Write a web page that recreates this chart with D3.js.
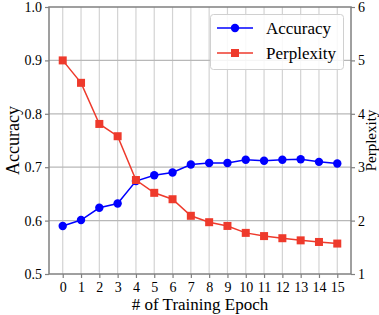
<!DOCTYPE html>
<html><head><meta charset="utf-8">
<script src="https://cdn.jsdelivr.net/npm/d3@7"></script>
<style>body{margin:0;background:#fff}svg{display:block}</style>
</head><body><svg id="c" width="379" height="315"></svg>
<script>
const epochs = [0,1,2,3,4,5,6,7,8,9,10,11,12,13,14,15];
const accuracy = [0.590,0.601,0.624,0.632,0.674,0.685,0.690,0.705,0.708,0.708,0.714,0.712,0.714,0.715,0.710,0.707];
const perplexity = [5.00,4.58,3.81,3.58,2.76,2.52,2.40,2.09,1.97,1.90,1.77,1.71,1.67,1.63,1.60,1.57];
const leftTicks = [0.5,0.6,0.7,0.8,0.9,1.0];
const rightTicks = [1,2,3,4,5,6];
const seriesNames = ["Accuracy","Perplexity"];
const colors = {acc:"#0000ff", ppl:"#ee3a2c"};
const FONT = "Liberation Serif, DejaVu Serif, serif";

const svg = d3.select("#c");
const L=49, R=351, T=7, B=274;
const x = d3.scaleLinear().domain([-0.75,15.75]).range([L,R]);
const yL = d3.scaleLinear().domain([0.5,1.0]).range([B,T]);
const yR = d3.scaleLinear().domain([1,6]).range([B,T]);

// grid
const g = svg.append("g");
g.selectAll("line.v").data(epochs).join("line")
 .attr("x1",d=>x(d)).attr("x2",d=>x(d)).attr("y1",T).attr("y2",B)
 .attr("stroke","#d3d3d3").attr("stroke-width",1.2);
g.selectAll("line.h").data(leftTicks.slice(1,-1)).join("line")
 .attr("x1",L).attr("x2",R).attr("y1",d=>yL(d)).attr("y2",d=>yL(d))
 .attr("stroke","#b8b8b8").attr("stroke-width",1.2);

// axes
const fmt = d3.format(".1f");
const axL = svg.append("g").attr("transform",`translate(${L},0)`)
 .call(d3.axisLeft(yL).tickValues(leftTicks).tickFormat(fmt).tickSize(4).tickPadding(3));
const axR = svg.append("g").attr("transform",`translate(${R},0)`)
 .call(d3.axisRight(yR).tickValues(rightTicks).tickFormat(d3.format("d")).tickSize(4).tickPadding(3));
const axB = svg.append("g").attr("transform",`translate(0,${B})`)
 .call(d3.axisBottom(x).tickValues(epochs).tickFormat(d3.format("d")).tickSize(4).tickPadding(4));
[axL,axR,axB].forEach(a=>{
  a.attr("font-family",FONT).attr("font-size",14);
  a.select(".domain").remove();
  a.selectAll(".tick line").attr("stroke","#808080").attr("stroke-width",1.2);
  a.selectAll("text").attr("fill","#000").attr("font-family",FONT).attr("font-size",14);
});
// frame
svg.append("rect").attr("x",L).attr("y",T).attr("width",R-L).attr("height",B-T)
 .attr("fill","none").attr("stroke","#808080").attr("stroke-width",1.5);

// lines
const lineAcc = d3.line().x((d,i)=>x(epochs[i])).y(d=>yL(d));
const linePpl = d3.line().x((d,i)=>x(epochs[i])).y(d=>yR(d));
svg.append("path").attr("d",lineAcc(accuracy)).attr("fill","none").attr("stroke",colors.acc).attr("stroke-width",1.5);
svg.selectAll("circle.acc").data(accuracy).join("circle")
 .attr("cx",(d,i)=>x(epochs[i])).attr("cy",d=>yL(d)).attr("r",4.2).attr("fill",colors.acc);
svg.append("path").attr("d",linePpl(perplexity)).attr("fill","none").attr("stroke",colors.ppl).attr("stroke-width",1.5);
svg.selectAll("rect.ppl").data(perplexity).join("rect")
 .attr("x",(d,i)=>x(epochs[i])-4).attr("y",d=>yR(d)-4).attr("width",8).attr("height",8).attr("fill",colors.ppl);

// axis titles
function txt(sel,size){ return sel.attr("font-family",FONT).attr("font-size",size).attr("fill","#000"); }
txt(svg.append("text"),18).attr("transform",`translate(19,${(T+B)/2}) rotate(-90)`).attr("text-anchor","middle").text("Accuracy");
txt(svg.append("text"),15).attr("transform",`translate(376,${(T+B)/2}) rotate(-90)`).attr("text-anchor","middle").text("Perplexity");
txt(svg.append("text"),17).attr("x",(L+R)/2).attr("y",310).attr("text-anchor","middle").text("# of Training Epoch");

// legend
const lg = svg.append("g");
lg.append("rect").attr("x",210.5).attr("y",14.5).attr("width",133).attr("height",55).attr("rx",3)
 .attr("fill","#fff").attr("fill-opacity",0.85).attr("stroke","#d0d0d0");
const rows=[{n:seriesNames[0],c:colors.acc,y:28,m:"c"},{n:seriesNames[1],c:colors.ppl,y:53,m:"s"}];
rows.forEach(r=>{
  lg.append("line").attr("x1",217).attr("x2",253).attr("y1",r.y).attr("y2",r.y).attr("stroke",r.c).attr("stroke-width",1.5);
  if(r.m==="c") lg.append("circle").attr("cx",235).attr("cy",r.y).attr("r",4.2).attr("fill",r.c);
  else lg.append("rect").attr("x",231).attr("y",r.y-4).attr("width",8).attr("height",8).attr("fill",r.c);
  txt(lg.append("text"),17).attr("x",266).attr("y",r.y+6).text(r.n);
});
</script></body></html>
